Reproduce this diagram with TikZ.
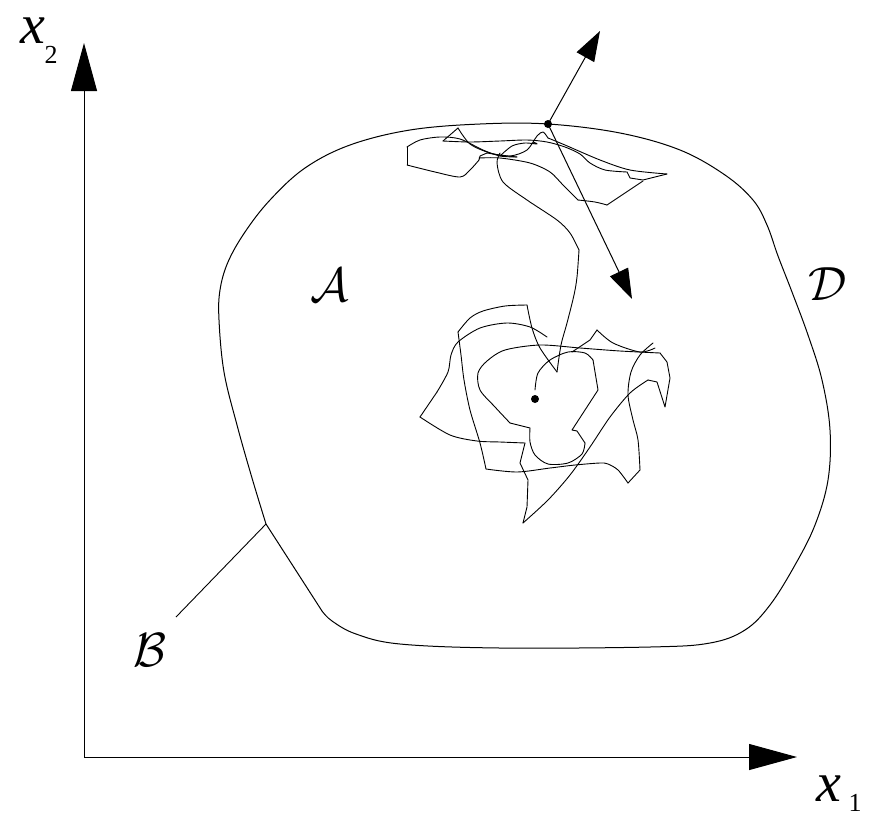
\documentclass[tikz,border=0pt]{standalone}
\usepackage{fontspec}
\setmainfont{Liberation Serif}
\usetikzlibrary{arrows.meta}
\begin{document}
\begin{tikzpicture}[x=1pt,y=-1pt,
  bigarrow/.style={line width=1pt,-{Triangle[length=48pt,width=26pt]}},
  smallarrow/.style={line width=1pt,-{Triangle[length=30pt,width=20pt]}},
  walk/.style={line width=0.9pt,line join=round,line cap=round},
  bound/.style={line width=1pt,line join=round},
  dotnode/.style={circle,fill=black,inner sep=0pt,minimum size=8pt},
  lbl/.style={inner sep=0pt},
  cal/.style={inner sep=0pt,scale=4.8}]
\useasboundingbox (0,0) rectangle (869,817);
% axes
\coordinate (O) at (84,757);
\coordinate (ytip) at (84,43);
\coordinate (xtip) at (797,757);
\draw[bigarrow] (O) -- (ytip);
\draw[bigarrow] (O) -- (xtip);
\node[lbl] (x2) at (33,31) {\fontsize{56}{56}\selectfont\itshape x};
\node[lbl] (x2s) at (51,55) {\fontsize{26}{26}\selectfont 2};
\node[lbl] (x1) at (829,789) {\fontsize{56}{56}\selectfont\itshape x};
\node[lbl] (x1s) at (855,803) {\fontsize{26}{26}\selectfont 1};
% boundary
\coordinate (Bc) at (266,524);
\draw[bound] plot[smooth,tension=0.6] coordinates {(266,524) (252,478) (237,425) (224,372) (219,320) (220,290) (228,262) (245,232) (270,200) (305,168) (350,145) (410,130) (480,124) (548,124) (620,133) (680,150) (725,175) (753,200) (767,225) (778,256) (792,292) (808,335) (822,380) (830,430) (828,480) (815,525) (795,565) (770,605) (745,630) (710,643) (650,647) (500,648) (400,644) (356,634) (332,621) (322,611)} -- cycle;
\coordinate (Bend) at (176,617);
\draw[line width=0.9pt] (Bc) -- (Bend);
\node[cal] (A) at (330,285) {$\mathcal{A}$};
\node[cal] (D) at (828,284) {$\mathcal{D}$};
\node[cal] (B) at (150,650) {$\mathcal{B}$};
% center tangle
\draw[walk] plot[smooth] coordinates {(535,390) (538,373) (550,360) (568,352) (585,353) (593,360)};
\draw[walk] (593,360) -- (598,390) -- (572,430) -- (577,431) -- (585,443);
\draw[walk] plot[smooth] coordinates {(585,443) (582,454) (568,463) (548,464) (535,455) (530,442) (530,428)};
\draw[walk] (530,428) -- (510,423);
\draw[walk] plot[smooth] coordinates {(510,423) (495,407) (480,390) (478,373) (487,361) (505,350) (540,345) (580,348) (620,351) (660,353)};
\draw[walk] (660,353) -- (667,362) -- (670,378) -- (665,407) -- (657,382) -- (648,380);
\draw[walk] plot[smooth] coordinates {(648,380) (630,393) (610,417) (590,447) (570,475) (548,500) (523,523)};
\draw[walk] (523,523) -- (527,507) -- (528,480) -- (520,463) -- (525,443);
\draw[walk] plot[smooth] coordinates {(525,443) (500,442) (477,441) (450,435) (420,417)};
\draw[walk] (420,417) -- (437,392);
\draw[walk] plot[smooth] coordinates {(437,392) (448,372) (451,355) (458,342) (480,328) (507,323) (530,327) (547,337)};
% second strand
\draw[walk] plot[smooth] coordinates {(653,343) (640,355) (631,372) (628,395) (633,420) (638,440) (640,470)};
\draw[walk] (640,470) -- (628,483);
\draw[walk] plot[smooth] coordinates {(628,483) (618,470) (608,464) (600,463) (575,465) (550,468) (517,472) (486,469)};
\draw[walk] plot[smooth] coordinates {(486,469) (480,443) (470,410) (464,380) (461,355) (458,332)};
\draw[walk] plot[smooth] coordinates {(458,332) (470,318) (483,311) (505,306) (527,305)};
\draw[walk] plot[smooth] coordinates {(527,305) (532,328) (540,348) (557,372)};
\draw[walk] plot[smooth] coordinates {(557,372) (561,345) (567,323) (574,295) (577,277) (579,250)};
\draw[walk] plot[smooth] coordinates {(579,250) (570,233) (557,220) (527,200) (503,182) (497,163) (500,153)};
% spiky strand
\draw[walk] (572,352) -- (590,340) -- (597,330);
\draw[walk] plot[smooth] coordinates {(597,330) (613,343) (640,352) (655,348)};
% top band
\draw[walk] (443,141) -- (458,128);
\draw[walk] plot[smooth] coordinates {(458,128) (470,144) (490,153) (510,156) (527,150) (537,136) (543,132) (548,138)};
\draw[walk] plot[smooth] coordinates {(548,138) (565,145) (600,160) (630,170) (667,174)};
\draw[walk] plot[smooth] coordinates {(443,141) (470,142) (500,141) (527,140) (547,142) (565,147) (580,154) (590,163) (605,170) (627,172)};
\draw[walk] (627,172) -- (630,178) -- (643,180) -- (667,174);
\draw[walk] plot[smooth] coordinates {(517,157) (500,155) (487,153)};
\draw[walk] (487,153) -- (480,156) -- (479,160);
\draw[walk] plot[smooth] coordinates {(479,160) (470,170) (460,177) (435,172) (407,165)};
\draw[walk] (407,165) -- (407,147);
\draw[walk] plot[smooth] coordinates {(407,147) (420,140) (440,137) (460,139) (483,150) (500,156) (517,157)};
\draw[walk] plot[smooth] coordinates {(500,156) (512,146) (525,143) (537,144) (533,142)};
\draw[walk] plot[smooth] coordinates {(479,158) (500,158) (530,163) (550,172) (563,185) (578,200)};
\draw[walk] plot[smooth] coordinates {(578,200) (595,202) (607,205)};
\draw[walk] (607,205) -- (643,181);
% arrows from boundary point
\node[dotnode] (P) at (548,124) {};
\coordinate (uptip) at (600,31);
\coordinate (dntip) at (632,299);
\draw[smallarrow] (P.center) -- (uptip);
\draw[smallarrow] (P.center) -- (dntip);
\node[dotnode] (S) at (535,399) {};
\end{tikzpicture}
\end{document}
